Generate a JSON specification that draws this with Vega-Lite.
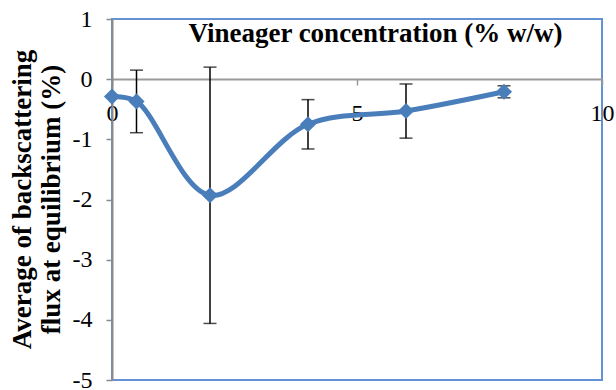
{
  "$schema": "https://vega.github.io/schema/vega-lite/v6.json",
  "width": 490,
  "height": 361,
  "autosize": "none",
  "padding": {"left": 112, "top": 19, "right": 14, "bottom": 10},
  "background": "white",
  "config": {
    "font": "'Liberation Serif', 'DejaVu Serif', serif",
    "axis": {"labelFont": "'Liberation Serif', 'DejaVu Serif', serif", "titleFont": "'Liberation Serif', 'DejaVu Serif', serif"},
    "view": {"stroke": "#6592D4", "strokeWidth": 2}
  },
  "data": {
    "values": [
      {"conc": 0, "flux": -0.29, "err": 0},
      {"conc": 0.5, "flux": -0.37, "err": 0.52},
      {"conc": 2, "flux": -1.93, "err": 2.13},
      {"conc": 4, "flux": -0.75, "err": 0.41},
      {"conc": 6, "flux": -0.53, "err": 0.45},
      {"conc": 8, "flux": -0.21, "err": 0.1}
    ]
  },
  "encoding": {
    "x": {
      "field": "conc",
      "type": "quantitative",
      "scale": {"domain": [0, 10], "nice": false},
      "axis": {
        "orient": "bottom",
        "offset": -301,
        "values": [0, 5, 10],
        "labelExpr": "'' + datum.value",
        "grid": false,
        "domainColor": "#9a9a9a",
        "domainWidth": 2,
        "tickColor": "#9a9a9a",
        "tickWidth": 1.5,
        "tickSize": 6,
        "labelFontSize": 24,
        "labelColor": "black",
        "labelPadding": 16,
        "labelFlush": false,
        "title": "Vineager concentration (% w/w)",
        "titleFontSize": 27,
        "titleFontWeight": "bold",
        "titleColor": "black",
        "titleX": 263,
        "titleY": -46,
        "titleBaseline": "middle",
        "titleAlign": "center"
      }
    },
    "y": {
      "field": "flux",
      "type": "quantitative",
      "scale": {"domain": [-5, 1], "nice": false},
      "axis": {
        "values": [-5, -4, -3, -2, -1, 0, 1],
        "labelExpr": "'' + datum.value",
        "grid": false,
        "domainColor": "#8a8a8a",
        "domainWidth": 2,
        "tickColor": "#8a8a8a",
        "tickWidth": 1.5,
        "tickSize": 6,
        "labelFontSize": 24,
        "labelColor": "black",
        "labelPadding": 14,
        "title": ["Average of backscattering", "flux at equilibrium (%)"],
        "titleFontSize": 27,
        "titleFontWeight": "bold",
        "titleColor": "black",
        "titleLineHeight": 29,
        "titleX": -90,
        "titleY": 180,
        "titleBaseline": "middle",
        "titleAlign": "center"
      }
    }
  },
  "layer": [
    {
      "transform": [{"filter": "datum.err > 0"}],
      "mark": {
        "type": "errorbar",
        "color": "black",
        "thickness": 1.5,
        "ticks": {"size": 13, "color": "black", "thickness": 1.5}
      },
      "encoding": {
        "y": {"field": "flux", "type": "quantitative", "title": null},
        "yError": {"field": "err"}
      }
    },
    {
      "mark": {
        "type": "line",
        "interpolate": "catmull-rom",
        "color": "#4A7EBB",
        "strokeWidth": 5
      }
    },
    {
      "mark": {
        "type": "point",
        "shape": "diamond",
        "filled": true,
        "size": 260,
        "color": "#4A7EBB",
        "opacity": 1
      }
    }
  ]
}
